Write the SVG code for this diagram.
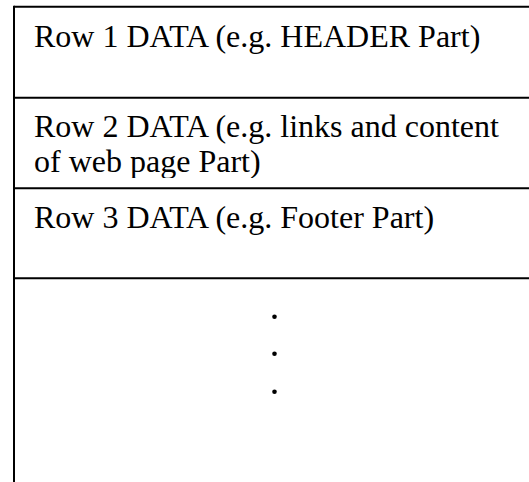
<svg xmlns="http://www.w3.org/2000/svg" width="529" height="482" viewBox="0 0 529 482">
<style>
.ln{stroke:#000;stroke-width:2;fill:none}
.t{font-family:"Liberation Serif","Times New Roman",serif;font-size:32px;fill:#000}
.dot{fill:#000}
</style>
<defs>
<clipPath id="c2"><rect x="15" y="98" width="514" height="80"/></clipPath>
</defs>
<rect width="529" height="482" fill="#fff"/>
<g id="grid">
<line class="ln" x1="14" y1="6.7" x2="529" y2="6.7"/>
<line class="ln" x1="14" y1="97.7" x2="529" y2="97.7"/>
<line class="ln" x1="14" y1="188.3" x2="529" y2="188.3"/>
<line class="ln" x1="14" y1="278.3" x2="529" y2="278.3"/>
<line class="ln" x1="14" y1="5.7" x2="14" y2="482"/>
</g>
<g id="row1"><text class="t" x="34" y="46.7">Row 1 DATA (e.g. HEADER Part)</text></g>
<g id="row2" clip-path="url(#c2)"><text class="t" x="34" y="136.7">Row 2 DATA (e.g. links and content</text><text class="t" x="34" y="171.5">of web page Part)</text></g>
<g id="row3"><text class="t" x="34" y="228.3">Row 3 DATA (e.g. Footer Part)</text></g>
<g id="dots">
<circle class="dot" cx="274.5" cy="316.7" r="2.3"/>
<circle class="dot" cx="274.5" cy="353.7" r="2.3"/>
<circle class="dot" cx="274.5" cy="391.7" r="2.3"/>
</g>
</svg>
